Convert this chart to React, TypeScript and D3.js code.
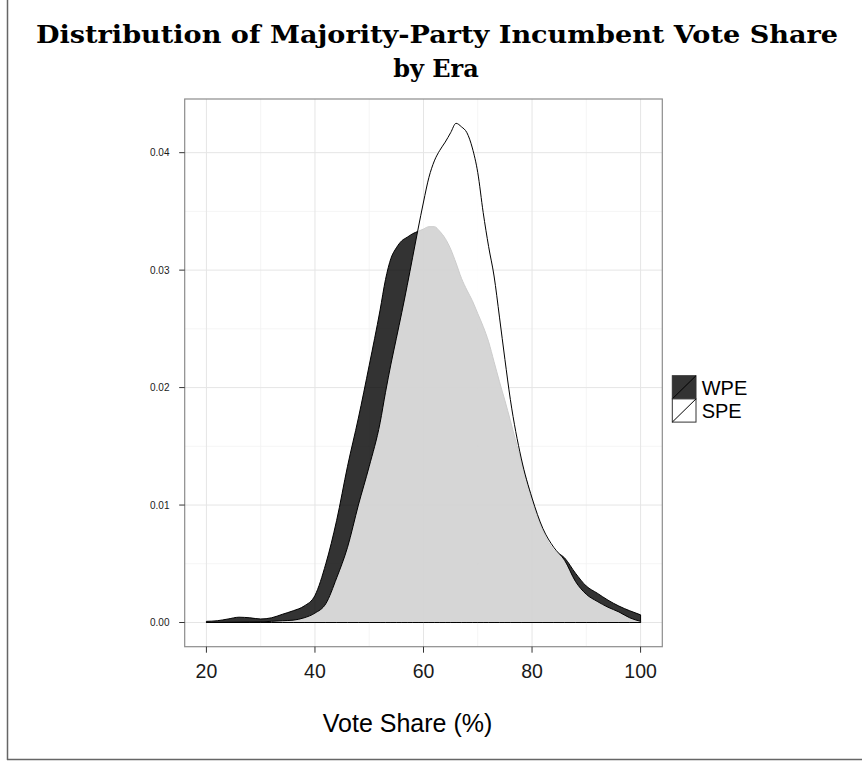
import React from 'react';
import * as d3 from 'd3';

// vote share grid (%)
const voteShare = [20,22,24,26,28,30,32,34,36,38,40,42,44,46,48,50,52,53,54,55,56,57,58,59,60,61,62,63,64,65,66,67,68,69,70,71,72,73,74,75,76,78,80,82,84,86,88,90,92,94,96,98,100];
const wpeDensity = [0.0001,0.00015,0.0003,0.00045,0.0004,0.0003,0.0004,0.0007,0.0010,0.0014,0.0023,0.0050,0.0087,0.0133,0.0174,0.0219,0.0266,0.0292,0.0310,0.0319,0.0325,0.0328,0.0331,0.0333,0.0335,0.0337,0.0337,0.0333,0.0327,0.0318,0.0306,0.0293,0.0283,0.0274,0.0263,0.0252,0.0239,0.0222,0.0205,0.0189,0.0172,0.0137,0.0104,0.0078,0.0062,0.0055,0.0042,0.0031,0.0025,0.0019,0.0014,0.0010,0.00065];
const speDensity = [0,0,0.00002,0.00003,0.00004,0.00005,0.0001,0.00015,0.0002,0.0004,0.0008,0.0016,0.0038,0.0064,0.0100,0.0133,0.0170,0.0196,0.0220,0.0242,0.0264,0.0287,0.0311,0.0335,0.0358,0.0379,0.0393,0.0402,0.0409,0.0417,0.0425,0.0422,0.0417,0.0404,0.0383,0.0349,0.0320,0.0295,0.0260,0.0224,0.0190,0.0140,0.0106,0.0080,0.0064,0.0053,0.0035,0.0024,0.0018,0.0013,0.0009,0.0004,0.0001];

const eras = ['WPE', 'SPE'];
const eraFill = ['rgba(0,0,0,0.8)', 'rgba(255,255,255,0.8)'];
const keyFill = ['#333333', '#ffffff'];

const xMajor = [20, 40, 60, 80, 100];
const xMinor = [30, 50, 70, 90];
const yMajor = [0, 0.01, 0.02, 0.03, 0.04];
const yMinor = [0.005, 0.015, 0.025, 0.035];

export default function App() {
  const W = 862, H = 761;
  const panel = { left: 184.7, right: 662.3, top: 99, bottom: 646.7 };
  const x = d3.scaleLinear().domain([16, 104]).range([panel.left, panel.right]);
  const y = d3.scaleLinear().domain([-0.00206, 0.04457]).range([panel.bottom, panel.top]);

  const area = d3.area<[number, number]>()
    .x(d => x(d[0]))
    .y0(y(0))
    .y1(d => y(d[1]))
    .curve(d3.curveMonotoneX);

  const series = [wpeDensity, speDensity].map(vals => voteShare.map((v, i) => [v, vals[i]] as [number, number]));
  const sans = 'Liberation Sans, Arial, sans-serif';

  return (
    <svg width={W} height={H} style={{ position: 'absolute', left: 0, top: 0 }}>
      <rect width={W} height={H} fill="#fff" />
      <line x1={7.5} x2={7.5} y1={0} y2={760} stroke="#666" strokeWidth={1.5} />
      <line x1={7} x2={W} y1={759.5} y2={759.5} stroke="#666" strokeWidth={1.5} />

      <text x={437} y={43} textAnchor="middle" fontFamily="DejaVu Serif, serif" fontWeight="bold" fontSize={24}
        textLength={802} lengthAdjust="spacingAndGlyphs">Distribution of Majority-Party Incumbent Vote Share</text>
      <text x={436} y={77} textAnchor="middle" fontFamily="DejaVu Serif, serif" fontWeight="bold" fontSize={24}>by Era</text>

      <rect x={panel.left} y={panel.top} width={panel.right - panel.left} height={panel.bottom - panel.top} fill="#fff" />
      {xMinor.map(v => <line key={'xm' + v} x1={x(v)} x2={x(v)} y1={panel.top} y2={panel.bottom} stroke="#f3f3f3" strokeWidth={0.8} />)}
      {yMinor.map(v => <line key={'ym' + v} x1={panel.left} x2={panel.right} y1={y(v)} y2={y(v)} stroke="#f3f3f3" strokeWidth={0.8} />)}
      {xMajor.map(v => <line key={'xM' + v} x1={x(v)} x2={x(v)} y1={panel.top} y2={panel.bottom} stroke="#e5e5e5" strokeWidth={1} />)}
      {yMajor.map(v => <line key={'yM' + v} x1={panel.left} x2={panel.right} y1={y(v)} y2={y(v)} stroke="#e5e5e5" strokeWidth={1} />)}

      {series.map((s, i) => (
        <path key={eras[i]} d={area(s) || ''} fill={eraFill[i]} stroke="#000" strokeWidth={1} strokeLinejoin="round" />
      ))}

      <rect x={panel.left} y={panel.top} width={panel.right - panel.left} height={panel.bottom - panel.top} fill="none" stroke="#8c8c8c" strokeWidth={1.2} />

      {yMajor.map(v => (
        <g key={'yt' + v}>
          <line x1={panel.left - 5.5} x2={panel.left} y1={y(v)} y2={y(v)} stroke="#333" strokeWidth={1} />
          <text x={169.5} y={y(v)} dy="0.35em" textAnchor="end" fontFamily={sans} fontSize={10} fill="#1a1a1a">{d3.format('.2f')(v)}</text>
        </g>
      ))}
      {xMajor.map(v => (
        <g key={'xt' + v}>
          <line x1={x(v)} x2={x(v)} y1={panel.bottom} y2={panel.bottom + 6} stroke="#333" strokeWidth={1} />
          <text x={x(v)} y={678.3} textAnchor="middle" fontFamily={sans} fontSize={19.5} fill="#1a1a1a">{v}</text>
        </g>
      ))}
      <text x={407.5} y={731.5} textAnchor="middle" fontFamily={sans} fontSize={25}>Vote Share (%)</text>

      {eras.map((e, i) => {
        const top = 375.7 + i * 23.2;
        return (
          <g key={'lg' + e}>
            <rect x={672.3} y={top} width={23.7} height={23.2} fill={keyFill[i]} stroke="#333" strokeWidth={1} />
            <line x1={672.3} y1={top + 23.2} x2={696} y2={top} stroke="#000" strokeWidth={1} />
            <text x={701.7} y={top + 19.3} fontFamily={sans} fontSize={20}>{e}</text>
          </g>
        );
      })}
    </svg>
  );
}
